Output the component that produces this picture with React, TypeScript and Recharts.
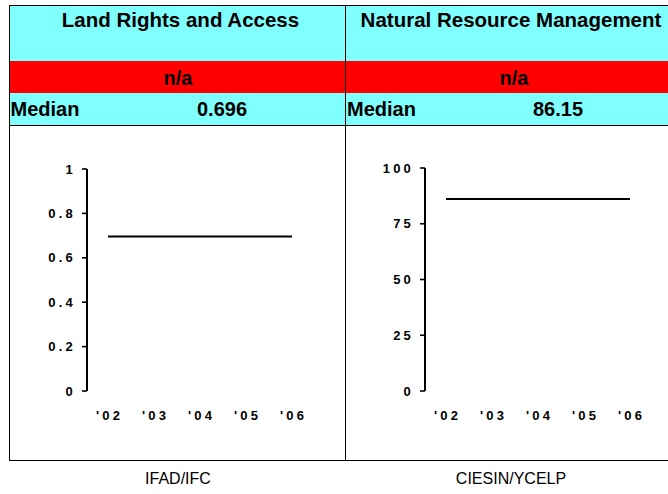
import React from "react";
import { LineChart, Line, XAxis, YAxis } from "recharts";

const years = ["'02", "'03", "'04", "'05", "'06"];
const landRightsValues = [0.696, 0.696, 0.696, 0.696, 0.696];
const resourceMgmtValues = [86.15, 86.15, 86.15, 86.15, 86.15];
const landRightsTicks = [0, 0.2, 0.4, 0.6, 0.8, 1];
const resourceMgmtTicks = [0, 25, 50, 75, 100];

const panelTitles = ["Land Rights and Access", "Natural Resource Management"];
const panelStatus = ["n/a", "n/a"];
const panelMedians = ["0.696", "86.15"];
const panelSources = ["IFAD/IFC", "CIESIN/YCELP"];

const FONT = '"Liberation Sans", Arial, Helvetica, sans-serif';
const CYAN = "#80FFFF";
const RED = "#FF0000";
const LS = 3.2;
const TICK_FS = 13;

const landData = years.map((y, i) => ({ year: y, value: landRightsValues[i] }));
const mgmtData = years.map((y, i) => ({ year: y, value: resourceMgmtValues[i] }));

const YTick = (props: any) => {
  const { x, y, payload } = props;
  return (
    <text
      x={x}
      y={y}
      dy={4.5}
      textAnchor="end"
      fontSize={TICK_FS}
      fontWeight="bold"
      fontFamily={FONT}
      fill="#000"
      style={{ letterSpacing: LS }}
    >
      {String(payload.value)}
    </text>
  );
};

const XTick = (props: any) => {
  const { x, y, payload } = props;
  return (
    <text
      x={x + LS / 2}
      y={y}
      dy={21}
      textAnchor="middle"
      fontSize={TICK_FS}
      fontWeight="bold"
      fontFamily={FONT}
      fill="#000"
      style={{ letterSpacing: LS }}
    >
      {payload.value}
    </text>
  );
};

const abs = (s: React.CSSProperties): React.CSSProperties => ({ position: "absolute", ...s });

function CenterText(props: { cx: number; baseline: number; size: number; text: string; bold?: boolean }) {
  const { cx, baseline, size, text, bold } = props;
  return (
    <div
      style={abs({
        left: cx - 200,
        width: 400,
        top: baseline - 0.8465 * size,
        height: size,
        lineHeight: `${size}px`,
        fontSize: size,
        fontWeight: bold === false ? "normal" : "bold",
        textAlign: "center",
        whiteSpace: "nowrap",
        fontFamily: FONT,
        color: "#000",
      })}
    >
      {text}
    </div>
  );
}

function LeftText(props: { left: number; baseline: number; size: number; text: string }) {
  const { left, baseline, size, text } = props;
  return (
    <div
      style={abs({
        left,
        top: baseline - 0.8465 * size,
        height: size,
        lineHeight: `${size}px`,
        fontSize: size,
        fontWeight: "bold",
        whiteSpace: "nowrap",
        fontFamily: FONT,
        color: "#000",
      })}
    >
      {text}
    </div>
  );
}

function ChartBox(props: { left: number; data: any[]; domain: [number, number]; ticks: number[]; top: number }) {
  const { left, data, domain, ticks, top } = props;
  return (
    <div style={abs({ left, top: 125 })}>
      <LineChart width={336} height={335} data={data} margin={{ top, right: 30, bottom: 335 - 30 - 266, left: 0 }}>
        <XAxis
          dataKey="year"
          axisLine={false}
          tickLine={false}
          tickSize={6}
          tickMargin={2}
          height={30}
          interval={0}
          padding={{ left: 21, right: 23 }}
          tick={<XTick />}
        />
        <YAxis
          width={78}
          domain={domain}
          ticks={ticks}
          interval={0}
          axisLine={{ stroke: "#000", strokeWidth: 2 }}
          tickLine={{ stroke: "#000", strokeWidth: 1.6 }}
          tickSize={5}
          tickMargin={6}
          tick={<YTick />}
        />
        <Line type="linear" dataKey="value" stroke="#000" strokeWidth={2} dot={false} isAnimationActive={false} />
      </LineChart>
    </div>
  );
}

export default function App() {
  return (
    <div style={abs({ left: 0, top: 0, width: 668, height: 494, background: "#fff", overflow: "hidden", fontFamily: FONT })}>
      {/* panel backgrounds */}
      <div style={abs({ left: 9, top: 5, width: 700, height: 56, background: CYAN })} />
      <div style={abs({ left: 9, top: 61, width: 700, height: 32, background: RED })} />
      <div style={abs({ left: 9, top: 93, width: 700, height: 32, background: CYAN })} />

      {/* borders */}
      <div style={abs({ left: 9, top: 5, width: 700, height: 1, background: "#000" })} />
      <div style={abs({ left: 9, top: 125, width: 700, height: 1, background: "#000" })} />
      <div style={abs({ left: 9, top: 460, width: 700, height: 1, background: "#000" })} />
      <div style={abs({ left: 9, top: 5, width: 1, height: 456, background: "#000" })} />
      <div style={abs({ left: 345, top: 5, width: 1, height: 456, background: "#000" })} />

      {/* header texts */}
      <CenterText cx={180.5} baseline={27} size={20.5} text={panelTitles[0]} />
      <CenterText cx={511} baseline={27} size={20.5} text={panelTitles[1]} />
      <CenterText cx={178} baseline={84.5} size={20} text={panelStatus[0]} />
      <CenterText cx={514} baseline={84.5} size={20} text={panelStatus[1]} />

      <LeftText left={10.5} baseline={116} size={20} text="Median" />
      <LeftText left={347} baseline={116} size={20} text="Median" />
      <CenterText cx={222} baseline={116} size={20} text={panelMedians[0]} />
      <CenterText cx={558} baseline={116} size={20} text={panelMedians[1]} />

      {/* charts */}
      <ChartBox left={9} data={landData} domain={[0, 1]} ticks={landRightsTicks} top={44} />
      <ChartBox left={347} data={mgmtData} domain={[0, 100]} ticks={resourceMgmtTicks} top={43} />

      {/* sources */}
      <CenterText cx={178} baseline={485} size={16} text={panelSources[0]} bold={false} />
      <CenterText cx={511} baseline={485} size={16} text={panelSources[1]} bold={false} />
    </div>
  );
}
